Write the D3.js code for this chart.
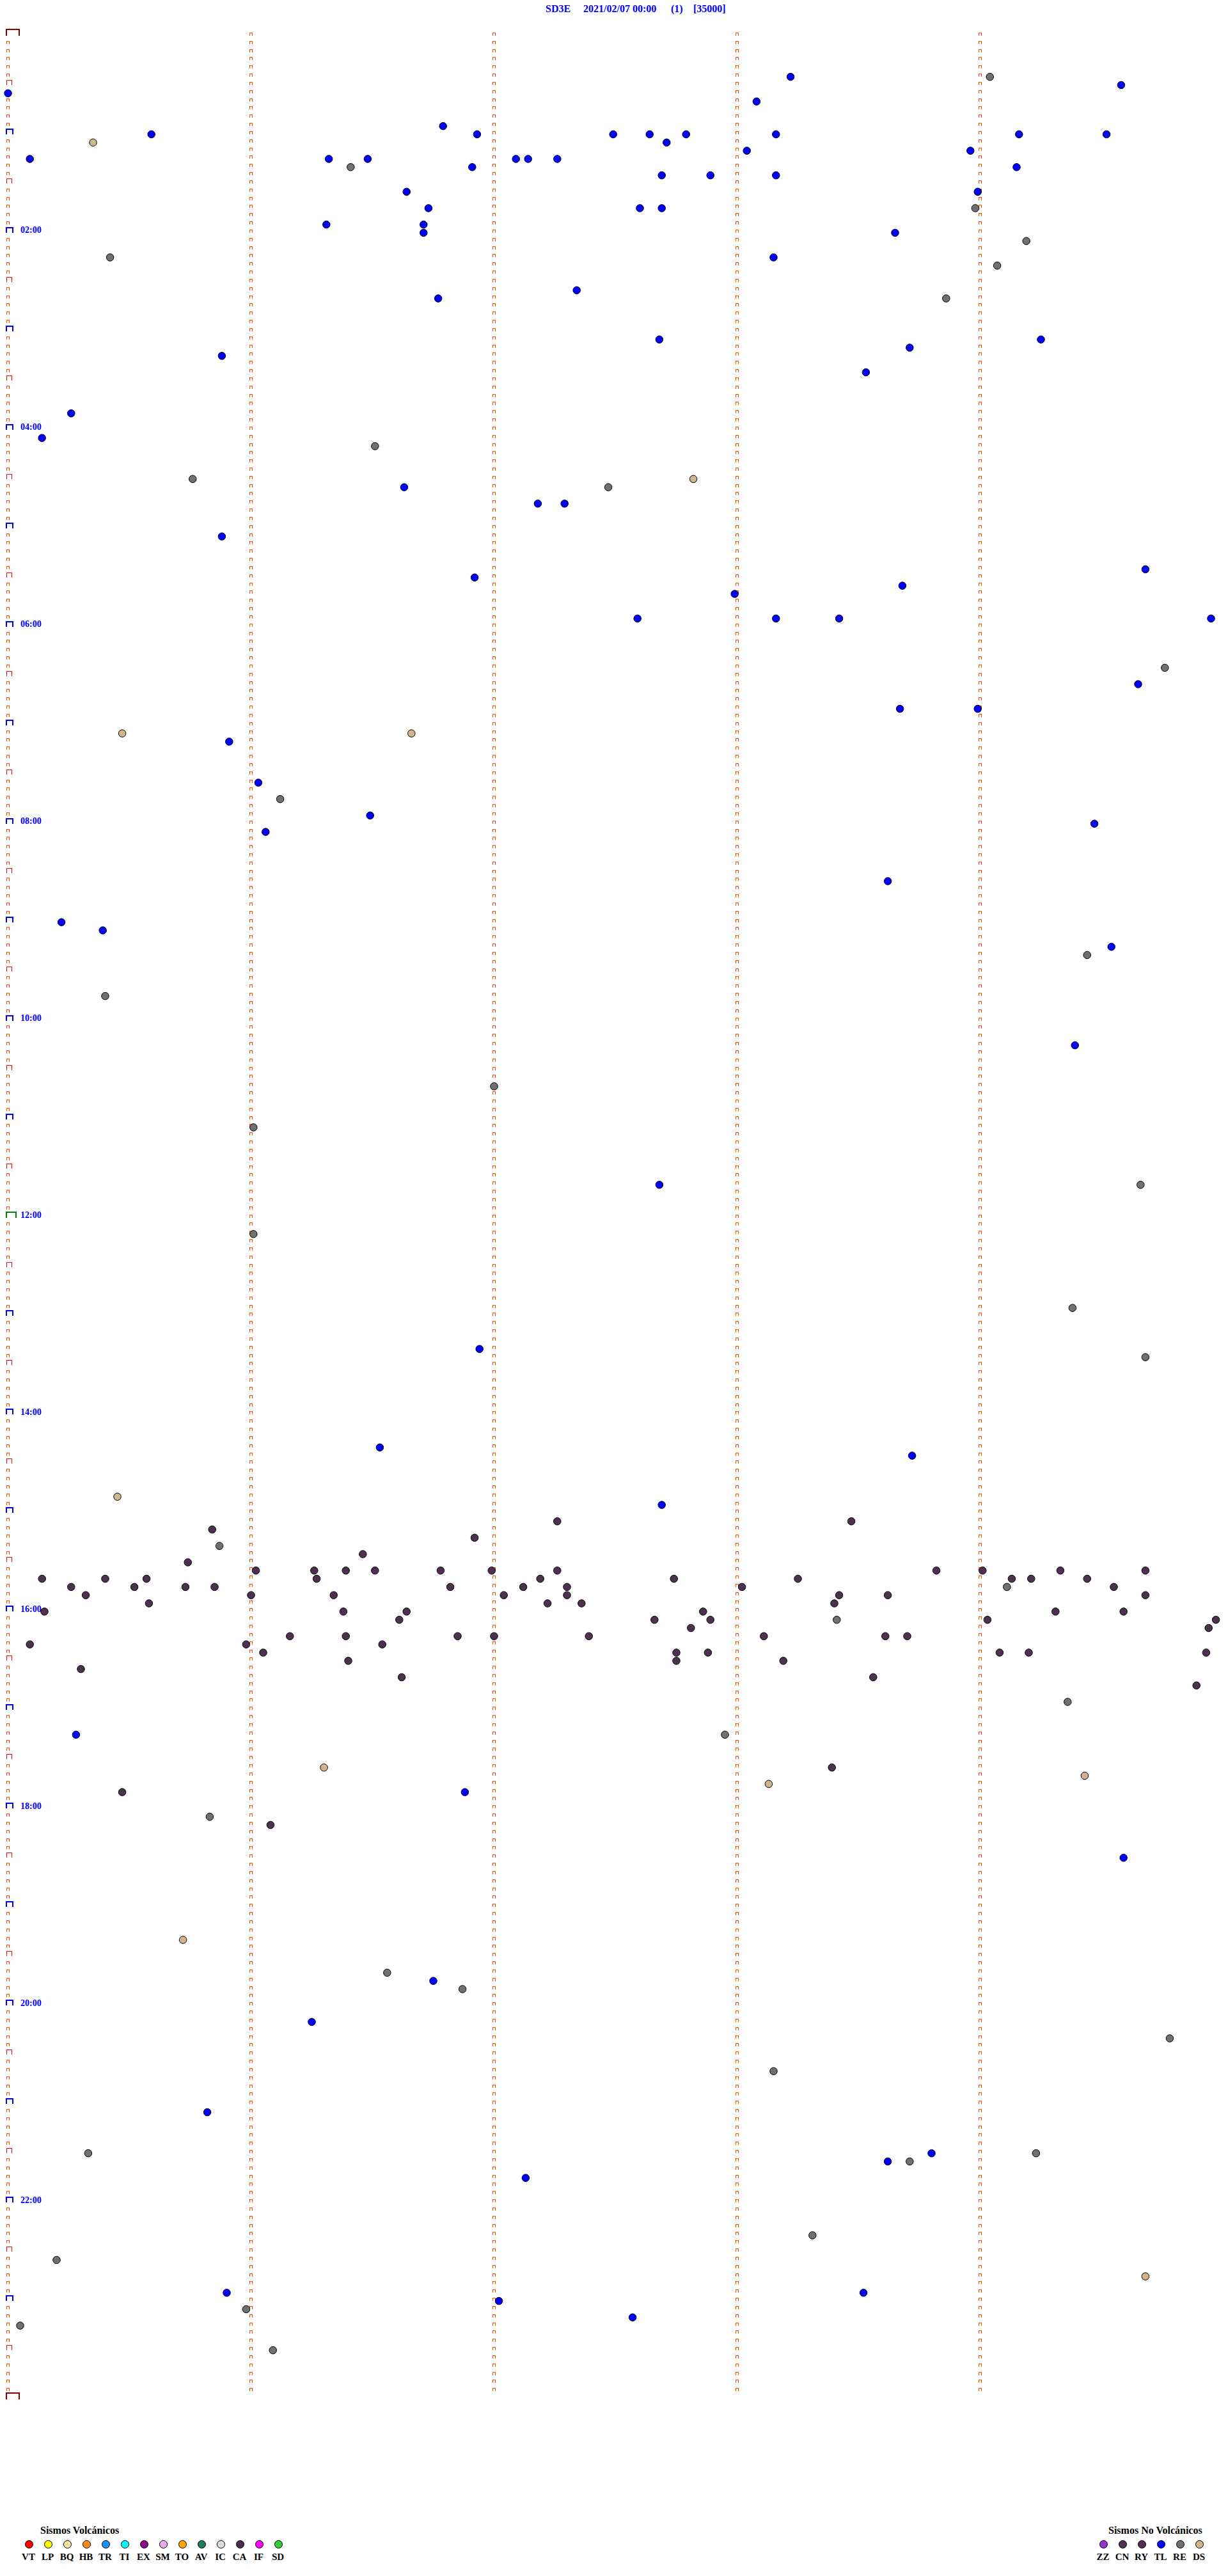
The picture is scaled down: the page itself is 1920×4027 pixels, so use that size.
<!DOCTYPE html>
<html><head><meta charset="utf-8">
<script src="https://cdn.jsdelivr.net/npm/d3@7"></script>
<style>body{margin:0;background:#fff}svg{display:block}</style>
</head><body>
<script>
// Event times, minutes after 2021/02/07 00:00 (each helicorder row = 5 min)
const TL = [28.22,34.58,35.00,43.08,56.79,60.59,61.93,62.49,62.64,62.79,63.16,64.16,64.52,67.71,73.04,73.96,
  75.09,76.32,76.48,77.09,77.14,77.26,81.91,84.15,87.69,87.89,88.16,96.64,98.99,106.73,107.60,107.69,116.31,116.71,
  121.71,123.65,138.15,157.34,161.77,187.68,189.25,193.71,195.88,208.53,230.26,245.14,276.63,287.18,287.29,
  305.88,331.92,329.68,342.99,338.68,357.59,358.16,358.42,359.95,399.65,413.67,413.99,430.91,456.03,476.49,486.06,
  484.47,518.62,540.22,545.39,559.54,619.39,702.68,801.94,861.53,868.72,897.69,
  1035.28,1071.88,1114.59,1186.75,1211.25,1265.82,1293.80,1298.62,1307.13,1375.90,1378.52,1382.02,1392.57];
const RE = [29.04,81.41,108.98,129.19,135.42,144.07,163.86,251.51,270.76,277.47,389.76,466.12,564.44,585.40,642.00,
  666.01,704.66,731.01,779.38,809.68,920.87,949.11,968.41,1019.36,1037.95,1085.83,1181.56,1191.87,1224.78,1243.15,
  1290.33,1294.23,1298.71,1343.31,1355.20,1385.98,1395.05,1411.09];
const DS = [65.35,272.82,425.47,426.66,890.45,1056.30,1064.43,1068.13,1160.72,1369.68];
const CA = [907.26,908.47,910.84,916.92,926.46,930.74,
  936.02,936.26,936.39,936.51,936.78,936.99,937.26,938.82,939.01,939.33,939.68,
  940.14,940.40,940.57,941.27,942.19,942.74,943.25,944.13,944.21,944.44,
  945.26,945.52,945.73,945.85,946.82,947.12,947.30,948.02,949.55,
  950.32,951.00,951.34,952.04,952.30,953.42,953.62,954.68,
  955.58,957.22,957.36,958.40,
  960.15,961.38,961.64,962.86,964.31,964.59,
  966.61,967.66,967.89,969.03,969.97,
  972.81,974.94,
  976.16,976.39,976.85,977.00,977.39,978.11,978.61,978.70,
  980.09,980.98,981.54,
  986.05,987.75,987.88,989.08,989.20,989.93,
  991.40,992.75,993.19,995.30,1001.62,1003.56,1009.89,
  1058.39,1070.47,1091.08];

const volcCodes  = ["VT","LP","BQ","HB","TR","TI","EX","SM","TO","AV","IC","CA","IF","SD"];
const volcColors = ["#FF0000","#FFFF00","#F2E2A6","#FF8A10","#1E90FF","#00FFFF","#8B0A8B","#E8AEE8","#FFA500","#1E7E5E","#DCDCDC","#4E2E4E","#FF00FF","#32CD32"];
const noVolcCodes  = ["ZZ","CN","RY","TL","RE","DS"];
const noVolcColors = ["#9434D0","#4E3450","#55304F","#0000FF","#707070","#D2B48C"];
const hourLabels = ["02:00","04:00","06:00","08:00","10:00","12:00","14:00","16:00","18:00","20:00","22:00"];
const titleParts = ["SD3E","2021/02/07 00:00","(1)","[35000]"];

const W = 1920, H = 4027, ROWS = 288, MIN_PER_ROW = 5;
const svg = d3.select("body").append("svg").attr("width", W).attr("height", H);
svg.append("rect").attr("width", W).attr("height", H).attr("fill", "#fff");

const y = d3.scaleLinear().domain([0, ROWS]).range([56, 56 + 12.83 * ROWS]);
const x = d3.scaleLinear().domain([0, MIN_PER_ROW]).range([12.5, 1912.5]);

// title
const titleX = [853, 912, 1049, 1084];
svg.selectAll("text.title").data(titleParts).join("text").attr("class","title")
  .attr("x", (d,i) => titleX[i]).attr("y", 19)
  .attr("font-family", "'Liberation Serif', 'Times New Roman', serif")
  .attr("font-weight", "bold").attr("font-size", 16).attr("fill", "#0000FF").text(d => d);

// row markers
const g = svg.append("g").attr("shape-rendering", "crispEdges").attr("fill", "none");
function cap(x0, yb, w, h) { return `M${x0},${yb} V${yb-h} H${x0+w} V${yb}`; }
const rows = d3.range(0, ROWS + 1);
let pLeft = "", pCols = "", pHalf = "", pHour = "";
rows.forEach(r => {
  const yr = Math.round(y(r));
  for (let c = 1; c <= 4; c++) {
    if (r < ROWS) { const xc = Math.round(x(c)) - 2.5; pCols += cap(xc, yr - 0.5, 4, 4.5); }
  }
  if (r === 0 || r === ROWS || r === 144) return;
  if (r % 12 === 0) pHour += cap(10, yr, 10, 8);
  else if (r % 6 === 0) pHalf += cap(10.5, yr, 8, 7.5);
  else pLeft += cap(10.5, yr - 0.5, 4, 4.5);
});
g.append("path").attr("d", pLeft + pCols).attr("stroke", "#FF4A00").attr("stroke-width", 1);
g.append("path").attr("d", pHalf).attr("stroke", "#FF0000").attr("stroke-width", 1);
g.append("path").attr("d", pHour).attr("stroke", "#0000FF").attr("stroke-width", 2);
g.append("path").attr("d", cap(10, Math.round(y(144)), 15, 9)).attr("stroke", "#008000").attr("stroke-width", 2);
g.append("path").attr("d", cap(10, Math.round(y(0)), 20, 10) + cap(10, Math.round(y(ROWS)), 20, 10))
  .attr("stroke", "#8B0000").attr("stroke-width", 2);

// hour labels
svg.selectAll("text.hour").data(hourLabels).join("text").attr("class","hour")
  .attr("x", 32).attr("y", d => y(+d.slice(0,2) * 12) + 0.5)
  .attr("font-family", "'Liberation Serif', 'Times New Roman', serif")
  .attr("font-weight", "bold").attr("font-size", 14).attr("fill", "#0000FF").text(d => d);

// events
function pos(t) {
  const r = Math.floor(t / MIN_PER_ROW + 1e-9);
  return [x(t - r * MIN_PER_ROW), y(r)];
}
const series = [
  {name:"RE", data:RE, color:"#707070"},
  {name:"DS", data:DS, color:"#D2B48C"},
  {name:"CA", data:CA, color:"#4E3050"},
  {name:"TL", data:TL, color:"#0000FF"}
];
series.forEach(s => {
  svg.append("g").selectAll("circle").data(s.data).join("circle")
    .attr("cx", d => pos(d)[0]).attr("cy", d => pos(d)[1]).attr("r", 5.75)
    .attr("fill", s.color).attr("stroke", "#000").attr("stroke-width", 1);
});

// legends
const legFont = "'Liberation Serif', 'Times New Roman', serif";
svg.append("text").attr("x", 63).attr("y", 3961).attr("font-family", legFont).attr("font-weight","bold")
  .attr("font-size", 16).attr("fill","#000").text("Sismos Volcánicos");
svg.append("text").attr("x", 1733).attr("y", 3961).attr("font-family", legFont).attr("font-weight","bold")
  .attr("font-size", 16).attr("fill","#000").text("Sismos No Volcánicos");
const lx1 = d3.scaleLinear().domain([0, volcCodes.length - 1]).range([45.5, 45.5 + 30 * (volcCodes.length - 1)]);
const lx2 = d3.scaleLinear().domain([0, noVolcCodes.length - 1]).range([1725.5, 1725.5 + 30 * (noVolcCodes.length - 1)]);
function legend(codes, colors, sc) {
  const lg = svg.append("g");
  lg.selectAll("circle").data(codes).join("circle")
    .attr("cx", (d,i) => sc(i)).attr("cy", 3977.5).attr("r", 6)
    .attr("fill", (d,i) => colors[i]).attr("stroke", "#000").attr("stroke-width", 1);
  lg.selectAll("text").data(codes).join("text")
    .attr("x", (d,i) => sc(i) - 1).attr("y", 4002).attr("text-anchor","middle")
    .attr("font-family", legFont).attr("font-weight","bold").attr("font-size", 15).attr("fill","#000").text(d => d);
}
legend(volcCodes, volcColors, lx1);
legend(noVolcCodes, noVolcColors, lx2);
</script>
</body></html>
